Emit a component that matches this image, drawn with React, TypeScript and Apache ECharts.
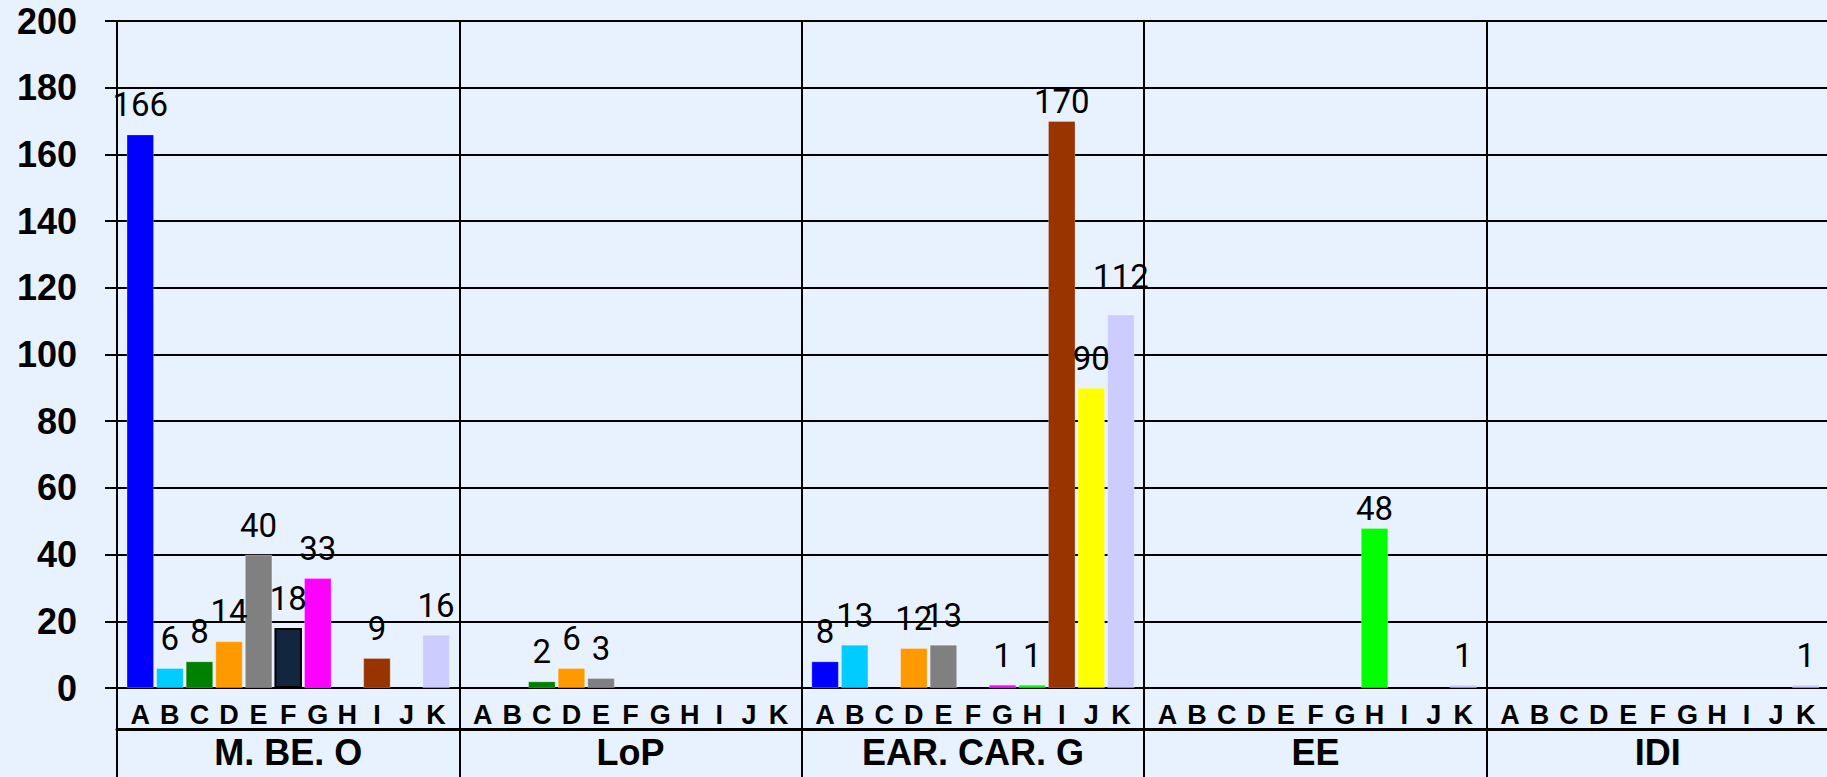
import React, { useEffect, useRef } from "react";
import * as echarts from "echarts";

const groups = ["M. BE. O", "LoP", "EAR. CAR. G", "EE", "IDI"];
const categories = ["A", "B", "C", "D", "E", "F", "G", "H", "I", "J", "K"];
const mBeO = [166, 6, 8, 14, 40, 18, 33, null, 9, null, 16];
const loP = [null, null, 2, 6, 3, null, null, null, null, null, null];
const earCarG = [8, 13, null, 12, 13, null, 1, 1, 170, 90, 112];
const ee = [null, null, null, null, null, null, null, 48, null, null, 1];
const idi = [null, null, null, null, null, null, null, null, null, null, 1];
const groupValues = [mBeO, loP, earCarG, ee, idi];
const categoryColors = [
  "#0000FF", "#00CCFF", "#008000", "#FF9900", "#808080", "#13263F",
  "#FF00FF", "#00FF00", "#993300", "#FFFF00", "#CCCCFF",
];
const yMin = 0;
const yMax = 200;
const yStep = 20;

const BG = "#E8F2FE";

export default function App() {
  const ref = useRef<HTMLDivElement>(null);
  useEffect(() => {
    if (!ref.current) return;
    const chart = echarts.init(ref.current, undefined, { renderer: "svg" });
    const W = 1827;
    const left = 117;
    const top = 21;
    const bottom = 89;
    const right = -2;
    const groupW = (W - right - left) / groups.length;
    const pad = 8.5;
    // label distance tweaks (group index, category index) to mimic the original placement
    const labelDistance = (gi: number, ci: number) => {
      if (gi === 2 && ci === 8) return 3;
      if (gi === 2 && ci === 10) return 21;
      if (gi === 3 && ci === 7) return 3;
      return 13;
    };

    const grids: any[] = [
      { left, right, top, bottom, outerBoundsMode: "none", containLabel: false },
    ];
    const xAxes: any[] = [
      {
        type: "category",
        gridIndex: 0,
        data: groups,
        boundaryGap: true,
        axisLine: { show: true, lineStyle: { color: "#000", width: 2 } },
        axisTick: { show: true, interval: 0, length: 89, lineStyle: { color: "#000", width: 2 } },
        axisLabel: {
          show: true,
          interval: 0,
          margin: 46,
          color: "#000",
          fontSize: 36,
          fontWeight: "bold",
          fontFamily: "Liberation Sans, Arial, sans-serif",
        },
        splitLine: { show: true, interval: 0, lineStyle: { color: "#000", width: 2 } },
      },
      {
        type: "category",
        gridIndex: 0,
        data: groups,
        position: "bottom",
        offset: 41,
        axisLine: { show: true, lineStyle: { color: "#000", width: 3 } },
        axisTick: { show: false },
        axisLabel: { show: false },
        splitLine: { show: false },
      },
    ];
    const yAxes: any[] = [
      {
        type: "value",
        gridIndex: 0,
        min: yMin,
        max: yMax,
        interval: yStep,
        axisLine: { show: true, lineStyle: { color: "#000", width: 2 } },
        axisTick: { show: true, length: 12, lineStyle: { color: "#000", width: 2 } },
        axisLabel: {
          margin: 40,
          color: "#000",
          fontSize: 36,
          fontWeight: "bold",
          fontFamily: "Liberation Sans, Arial, sans-serif",
        },
        splitLine: { show: true, lineStyle: { color: "#000", width: 2 } },
      },
    ];
    const series: any[] = [];

    groups.forEach((g, gi) => {
      const gl = left + gi * groupW + pad;
      const gw = groupW - 2 * pad;
      grids.push({
        left: gl,
        width: gw,
        top,
        bottom,
        outerBoundsMode: "none",
        containLabel: false,
      });
      xAxes.push({
        type: "category",
        gridIndex: gi + 1,
        data: categories,
        axisLine: { show: false },
        axisTick: { show: false },
        splitLine: { show: false },
        axisLabel: {
          interval: 0,
          margin: 13,
          color: "#000",
          fontSize: 27,
          fontWeight: "bold",
          fontFamily: "Liberation Sans, Arial, sans-serif",
        },
      });
      yAxes.push({
        type: "value",
        gridIndex: gi + 1,
        min: yMin,
        max: yMax,
        interval: yStep,
        show: false,
        splitLine: { show: false },
      });
      series.push({
        type: "bar",
        name: g,
        xAxisIndex: gi + 2,
        yAxisIndex: gi + 1,
        barCategoryGap: "7%",
        data: groupValues[gi].map((v, i) =>
          v == null
            ? "-"
            : {
                value: v,
                itemStyle: {
                  color: categoryColors[i],
                  borderColor: i === 5 ? "#000" : "rgba(255,255,255,0.25)",
                  borderWidth: i === 5 ? 2 : 1,
                },
                label: { distance: labelDistance(gi, i) },
              }
        ),
        label: {
          show: true,
          position: "top",
          distance: 13,
          color: "#000",
          fontSize: 33,
          fontFamily: "Roboto, sans-serif",
        },
      });
    });

    chart.setOption({
      animation: false,
      backgroundColor: BG,
      grid: grids,
      xAxis: xAxes,
      yAxis: yAxes,
      series,
    });
    return () => chart.dispose();
  }, []);
  return (
    <div
      ref={ref}
      style={{ position: "fixed", left: 0, top: 0, width: 1827, height: 777, background: BG }}
    />
  );
}
